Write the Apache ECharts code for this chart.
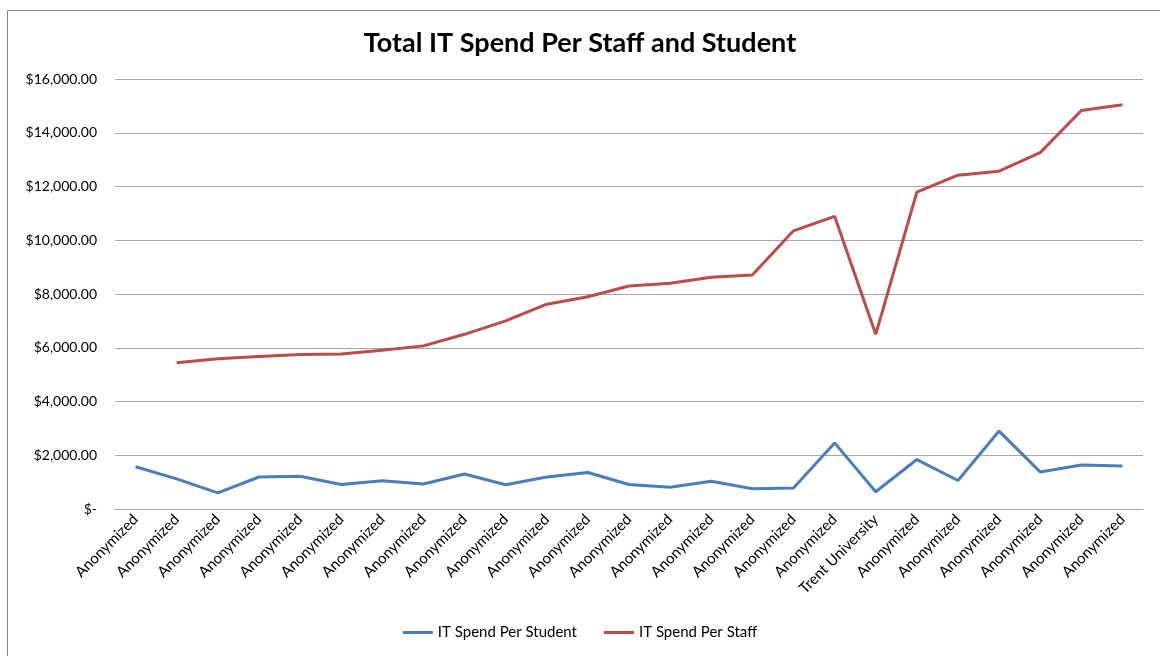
<!DOCTYPE html>
<html>
<head>
<meta charset="utf-8">
<title>Total IT Spend Per Staff and Student</title>
<script src="https://cdn.jsdelivr.net/npm/echarts@6/dist/echarts.min.js"></script>
<style>
  html, body { margin: 0; padding: 0; background: #fff; }
  #main { width: 1160px; height: 656px; }
</style>
</head>
<body>
<div id="main"></div>
<script>
// categories: 18 anonymized schools, Trent, then 6 more
var categories = [
  'Anonymized', 'Anonymized', 'Anonymized', 'Anonymized', 'Anonymized',
  'Anonymized', 'Anonymized', 'Anonymized', 'Anonymized', 'Anonymized',
  'Anonymized', 'Anonymized', 'Anonymized', 'Anonymized', 'Anonymized',
  'Anonymized', 'Anonymized', 'Anonymized', 'Trent University', 'Anonymized',
  'Anonymized', 'Anonymized', 'Anonymized', 'Anonymized', 'Anonymized'
]

var perStudent = [
  1570, 1120, 600, 1190, 1220, 910, 1050, 930, 1300, 900,
  1190, 1360, 910, 810, 1030, 750, 780, 2460, 640, 1840,
  1060, 2900, 1380, 1640, 1600
]

// first school has no staff figure
var perStaff = [
  null, 5440, 5590, 5670, 5750, 5770, 5910, 6070, 6500, 7000,
  7620, 7900, 8300, 8400, 8620, 8710, 10350, 10890, 6500, 11790,
  12420, 12570, 13260, 14830, 15040
]

var yTicks = { min: 0, max: 16000, step: 2000 }

var textFont = 'Lato'

function money(v) {
  if (v === 0) return '$-'
  return '$' + v.toLocaleString('en-US', { minimumFractionDigits: 2, maximumFractionDigits: 2 })
}

var myChart = echarts.init(document.getElementById('main'))

var option = {
  backgroundColor: '#fff',
  animation: false,
  textStyle: { fontFamily: textFont },
  graphic: [
    {
      type: 'rect',
      shape: { x: 7.5, y: 10.5, width: 1170, height: 670 },
      style: { fill: 'none', stroke: '#868686', lineWidth: 1 },
      silent: true
    }
  ],
  title: {
    text: 'Total IT Spend Per Staff and Student',
    left: 'center',
    top: 25,
    textStyle: { fontFamily: textFont, fontSize: 27, fontWeight: 'bold', color: '#000' }
  },
  legend: {
    bottom: 11,
    left: 'center',
    icon: 'rect',
    itemWidth: 30,
    itemHeight: 3,
    itemGap: 27,
    textStyle: { fontFamily: textFont, fontSize: 15, color: '#000' },
    data: ['IT Spend Per Student', 'IT Spend Per Staff']
  },
  grid: { left: 115, right: 17, top: 79, bottom: 147 },
  xAxis: {
    type: 'category',
    data: categories,
    boundaryGap: true,
    axisLine: { show: true, lineStyle: { color: '#a6a6a6', width: 1 } },
    axisTick: { show: false },
    axisLabel: {
      interval: 0,
      rotate: 45,
      margin: 8,
      fontFamily: textFont,
      fontSize: 15,
      color: '#000'
    }
  },
  yAxis: {
    type: 'value',
    min: yTicks.min,
    max: yTicks.max,
    interval: yTicks.step,
    axisLine: { show: false },
    axisTick: { show: false },
    splitLine: { lineStyle: { color: '#a6a6a6', width: 1 } },
    axisLabel: {
      margin: 18,
      fontFamily: textFont,
      fontSize: 14,
      color: '#000',
      formatter: money
    }
  },
  series: [
    {
      name: 'IT Spend Per Student',
      type: 'line',
      data: perStudent,
      symbol: 'none',
      lineStyle: { color: '#4a7ebb', width: 3 },
      itemStyle: { color: '#4a7ebb' }
    },
    {
      name: 'IT Spend Per Staff',
      type: 'line',
      data: perStaff,
      symbol: 'none',
      lineStyle: { color: '#be4b48', width: 3 },
      itemStyle: { color: '#be4b48' }
    }
  ]
}

myChart.setOption(option)
</script>
</body>
</html>
